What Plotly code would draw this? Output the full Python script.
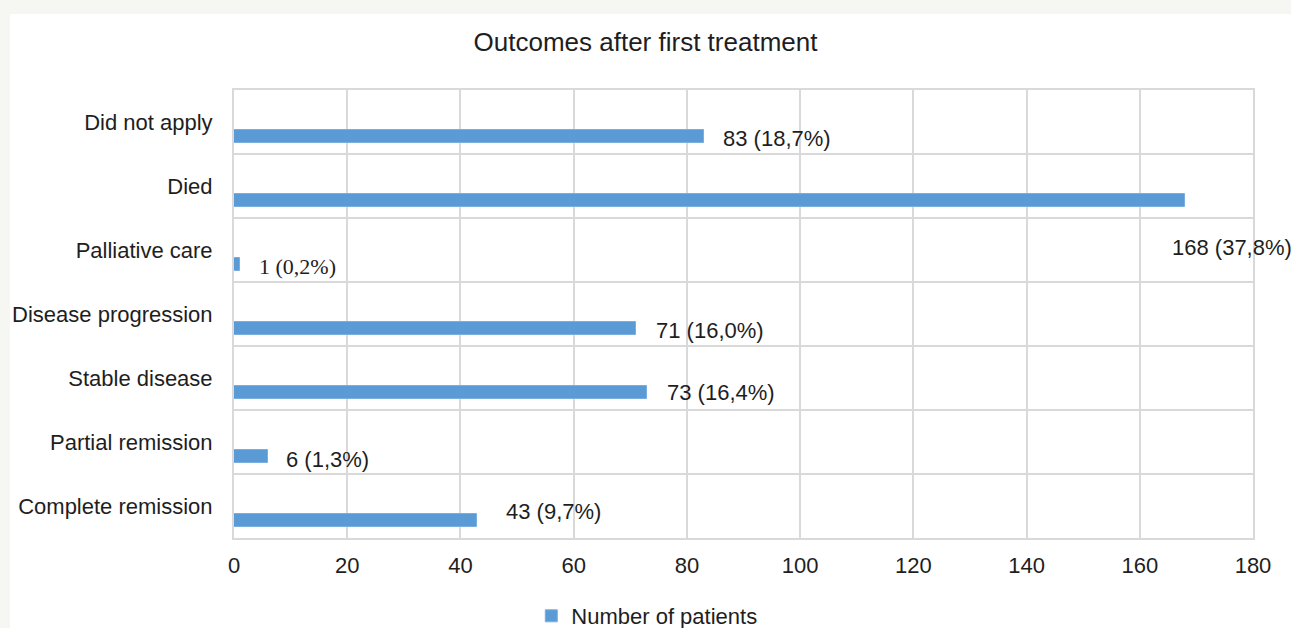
import plotly.graph_objects as go

# ---- data (top-to-bottom as in the chart) ----
categories = ["Did not apply", "Died", "Palliative care", "Disease progression",
              "Stable disease", "Partial remission", "Complete remission"]
patients = [83, 168, 1, 71, 73, 6, 43]
labels = ["83 (18,7%)", "168 (37,8%)", "1 (0,2%)", "71 (16,0%)",
          "73 (16,4%)", "6 (1,3%)", "43 (9,7%)"]
series_name = "Number of patients"
title_text = "Outcomes after first treatment"
x_ticks = [0, 20, 40, 60, 80, 100, 120, 140, 160, 180]

# ---- styles ----
BAR = "#5b9bd5"
GRID = "#d9d9d9"
TXT = "#1e1e1e"
PAGE = "#f6f6f2"
FONT = "Liberation Sans, Arial, sans-serif"
label_fonts = [FONT, FONT, "Liberation Serif, Times New Roman, serif", FONT, FONT, FONT, FONT]
label_xshift = [17, -15, 17, 18, 18, 16, 27]
label_yshift = [-16, -61, -16, -16, -14, -17, -5]

L, R, T, B = 234, 38, 90, 90
W, H = 1291, 628
pw, ph = W - L - R, H - T - B

fig = go.Figure()
fig.add_trace(go.Bar(
    x=patients, y=categories, orientation="h", name=series_name,
    marker=dict(color=BAR, line=dict(color="#7aaee0", width=1)),
    width=0.21, offset=-0.33, showlegend=True, hoverinfo="x+y",
))

for c, v, t, f, xs, ys in zip(categories, patients, labels, label_fonts, label_xshift, label_yshift):
    fig.add_annotation(x=v, y=c, xref="x", yref="y", text=t, showarrow=False,
                       xanchor="left", yanchor="middle", xshift=xs, yshift=ys,
                       font=dict(family=f, size=22, color=TXT))

# white panel over beige page
fig.add_shape(type="rect", xref="paper", yref="paper", layer="below",
              x0=(10 - L) / pw, x1=(W - L) / pw + 0.01,
              y0=-(B + 5) / ph, y1=(H - 14 - B) / ph,
              fillcolor="white", line=dict(width=0))

fig.update_layout(
    width=W, height=H,
    margin=dict(l=L, r=R, t=T, b=B, pad=0),
    paper_bgcolor=PAGE, plot_bgcolor="white",
    font=dict(family=FONT, size=22, color=TXT),
    title=dict(text=title_text, x=0.5, xanchor="center", xref="container",
               y=1 - 42 / H, yanchor="middle", yref="container",
               font=dict(family=FONT, size=26, color=TXT)),
    xaxis=dict(range=[0, 180], tickmode="array", tickvals=x_ticks,
               showgrid=True, gridcolor=GRID, gridwidth=2,
               showline=True, linecolor=GRID, linewidth=2, mirror=True,
               zeroline=False, ticks="", ticklabelstandoff=7, automargin=False,
               tickfont=dict(size=22, color=TXT), fixedrange=True),
    yaxis=dict(type="category", categoryorder="array",
               categoryarray=list(reversed(categories)),
               range=[-0.5, len(categories) - 0.5],
               tickson="boundaries", showgrid=True, gridcolor=GRID, gridwidth=2,
               showline=True, linecolor=GRID, linewidth=2, mirror=True,
               ticks="", ticklabelstandoff=15, automargin=False,
               tickfont=dict(size=22, color=TXT), fixedrange=True),
    legend=dict(orientation="h", xref="container", yref="container",
                x=0.501, xanchor="center", y=1 - 616 / H, yanchor="middle",
                itemwidth=30, font=dict(size=22, color=TXT),
                bgcolor="rgba(0,0,0,0)"),
    bargap=0,
)

fig.write_html(
    "out.html",
    config={"displayModeBar": False},
    post_script=("document.body.style.margin='0';"
                 "document.body.style.background='" + PAGE + "';"
                 "document.body.style.overflow='hidden';"),
)
